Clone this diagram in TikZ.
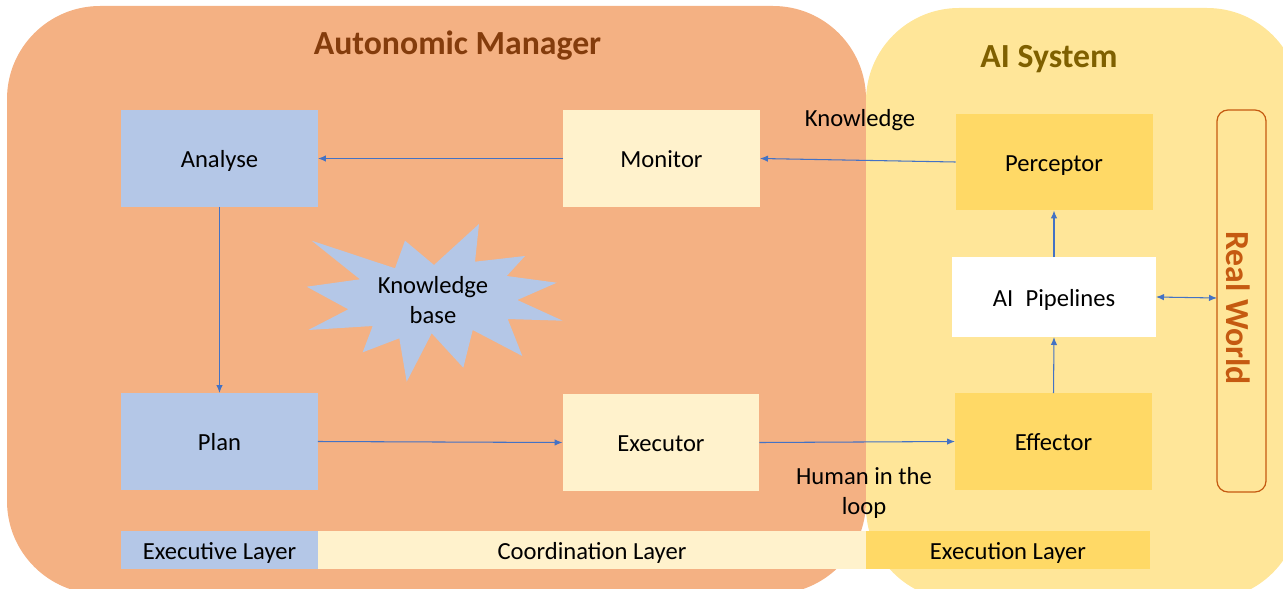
\documentclass[tikz,border=0pt]{standalone}
\usepackage{fontspec}
\setmainfont{Carlito}
\usetikzlibrary{arrows.meta}
\definecolor{amorange}{HTML}{F4B183}
\definecolor{aiyellow}{HTML}{FFE699}
\definecolor{blueb}{HTML}{B4C7E7}
\definecolor{lighty}{HTML}{FFF2CC}
\definecolor{darky}{HTML}{FFD966}
\definecolor{amtitle}{HTML}{843C0C}
\definecolor{aititle}{HTML}{7F6000}
\definecolor{rworld}{HTML}{C55A11}
\definecolor{arrowblue}{HTML}{4472C4}
\begin{document}
\begin{tikzpicture}[x=0.02cm,y=-0.02cm,
  txt/.style={font=\fontsize{14}{17}\selectfont, text=black},
  box/.style={txt, inner sep=0pt, outer sep=0pt, minimum width=3.94cm, minimum height=1.94cm, text height=11pt, text depth=0.6pt},
  bar/.style={txt, inner sep=0pt, outer sep=0pt, minimum height=0.76cm, text height=11pt, text depth=0.6pt},
  title/.style={font=\fontsize{19.2}{22}\selectfont\bfseries},
  conn/.style={draw=arrowblue, line width=0.6pt, -{Latex[length=1.6mm,width=1.3mm]}},
  conn2/.style={draw=arrowblue, line width=0.6pt, {Latex[length=1.6mm,width=1.3mm]}-{Latex[length=1.6mm,width=1.3mm]}}
]
\useasboundingbox (0,0) rectangle (1283,588);
% backgrounds
\fill[amorange, rounded corners=1.86cm] (7,6) rectangle (866,594);
\fill[aiyellow, rounded corners=1.86cm] (866,8) rectangle (1300,600);
% titles
\node[title, text=amtitle, anchor=base] (amt) at (457.5,55) {Autonomic Manager};
\node[title, text=aititle, anchor=base] (ait) at (1049,68) {AI System};
% layer bar
\node[bar, fill=blueb, minimum width=3.94cm] (exl) at (219.5,550) {Executive Layer};
\node[bar, fill=lighty, minimum width=10.96cm] (col) at (592,550) {Coordination Layer};
\node[bar, fill=darky, minimum width=5.68cm] (exe) at (1008,550) {Execution Layer};
% boxes
\node[box, fill=blueb] (analyse) at (219.5,158.5) {Analyse};
\node[box, fill=blueb] (plan) at (219.5,441.5) {Plan};
\node[box, fill=lighty] (monitor) at (661.5,158.5) {Monitor};
\node[box, fill=lighty] (executor) at (661,442.5) {Executor};
\node[box, fill=darky] (perceptor) at (1054,162) {Perceptor};
\node[box, fill=darky] (effector) at (1053.5,441.5) {Effector};
\node[box, fill=white, minimum width=4.08cm, minimum height=1.6cm] (pipes) at (1054,297) {AI\,\,\,Pipelines};
% real world
\draw[rworld, line width=0.7pt, rounded corners=0.22cm] (1217,110) rectangle (1266,492);
\node[title, text=rworld, rotate=-90] (rw) at (1238,308) {Real World};
\coordinate (rwl) at (1217,298);
% knowledge base starburst
\fill[blueb] (311.7,240.7) -- (395,268.3) -- (405,240.7) -- (434,265) -- (479,224) -- (475,261.7)
  -- (525,256) -- (506.7,276) -- (556.7,282.7) -- (517.3,300) -- (562.7,320.7) -- (507.7,319)
  -- (522.3,356) -- (472.7,330) -- (463.3,367.7) -- (431.7,333.3) -- (406.7,381.7) -- (399.3,338.3)
  -- (362.7,352.3) -- (372.7,326) -- (308.3,330) -- (348.3,309.3) -- (306.7,286.7) -- (360,279.3) -- cycle;
\node[txt, align=center] (kb) at (433,300) {Knowledge\\base};
% labels
\node[txt] (know) at (860,120) {Knowledge};
\node[txt, align=center] (hil) at (864,493) {Human in the\\loop};
% connectors
\draw[conn] (monitor.west) -- (analyse.east);
\draw[conn] (perceptor.west) -- (monitor.east);
\draw[conn] (analyse.south) -- (plan.north);
\draw[conn] (plan.east) -- (executor.west);
\draw[conn] (executor.east) -- (effector.west);
\draw[conn] (effector.north) -- (pipes.south);
\draw[conn] (pipes.north) -- (perceptor.south);
\draw[conn2] (pipes.east) -- (rwl);
\end{tikzpicture}
\end{document}
